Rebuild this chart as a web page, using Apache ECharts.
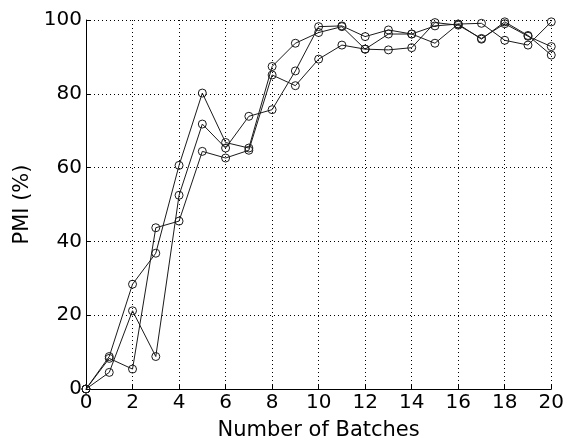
<!DOCTYPE html>
<html>
<head>
<meta charset="utf-8">
<script src="https://cdn.jsdelivr.net/npm/echarts@6/dist/echarts.min.js"></script>
<style>
  html, body { margin: 0; padding: 0; background: #fff; }
  #chart { width: 567px; height: 446px; }
</style>
</head>
<body>
<div id="chart"></div>
<script>
// Batch index (x) and PMI (%) for three runs
const batches = [0, 1, 2, 3, 4, 5, 6, 7, 8, 9, 10, 11, 12, 13, 14, 15, 16, 17, 18, 19, 20];
const runA = [0, 8.8, 28.4, 36.8, 60.6, 80.2, 66.8, 65.3, 87.4, 93.7, 96.6, 98.2, 92.1, 96.2, 96.2, 98.4, 98.9, 94.8, 99.5, 95.8, 90.5];
const runB = [0, 8.3, 5.4, 43.7, 45.5, 64.4, 62.6, 64.7, 85.1, 82.2, 89.4, 93.2, 92.1, 91.9, 92.5, 99.3, 98.6, 95.0, 99.0, 95.6, 92.8];
const runC = [0, 4.5, 21.2, 8.8, 52.5, 71.8, 65.3, 73.9, 75.7, 86.2, 98.2, 98.4, 95.5, 97.3, 96.2, 93.7, 98.9, 99.1, 94.5, 93.2, 99.5];

const xTicks = { min: 0, max: 20, step: 2 };
const yTicks = { min: 0, max: 100, step: 20 };

const font = 'DejaVu Sans, Liberation Sans, Arial, sans-serif';

function pairs(values) {
  return batches.map((b, i) => [b, values[i]]);
}

function run(values) {
  return {
    type: 'line',
    data: pairs(values),
    symbol: 'circle',
    symbolSize: 8,
    showSymbol: true,
    lineStyle: { color: '#1a1a1a', width: 1 },
    itemStyle: { color: 'rgba(0,0,0,0)', borderColor: '#1a1a1a', borderWidth: 1 },
    emphasis: { disabled: true },
    animation: false,
    z: 3
  };
}

const chart = echarts.init(document.getElementById('chart'), null, { renderer: 'canvas' });
chart.setOption({
  backgroundColor: '#fff',
  animation: false,
  grid: { left: 86, right: 12, top: 20, bottom: 56, containLabel: false },
  xAxis: {
    type: 'value',
    min: xTicks.min, max: xTicks.max, interval: xTicks.step,
    name: 'Number of Batches',
    nameLocation: 'middle',
    nameGap: 31,
    nameTextStyle: { fontFamily: font, fontSize: 21, color: '#000' },
    axisLine: { show: true, onZero: false, lineStyle: { color: '#000', width: 1 } },
    axisTick: { show: true, inside: true, length: 4, lineStyle: { color: '#000' } },
    axisLabel: { fontFamily: font, fontSize: 20, color: '#000', margin: 4 },
    splitLine: { show: true, lineStyle: { color: '#000', type: [1, 3], width: 1 } }
  },
  yAxis: {
    type: 'value',
    min: yTicks.min, max: yTicks.max, interval: yTicks.step,
    name: 'PMI (%)',
    nameLocation: 'middle',
    nameGap: 47,
    nameTextStyle: { fontFamily: font, fontSize: 21, color: '#000' },
    axisLine: { show: true, lineStyle: { color: '#000', width: 1 } },
    axisTick: { show: true, inside: true, length: 4, lineStyle: { color: '#000' } },
    axisLabel: { fontFamily: font, fontSize: 20, color: '#000', margin: 4 },
    splitLine: { show: true, lineStyle: { color: '#000', type: [1, 3], width: 1 } }
  },
  series: [run(runA), run(runB), run(runC)]
});
</script>
</body>
</html>
